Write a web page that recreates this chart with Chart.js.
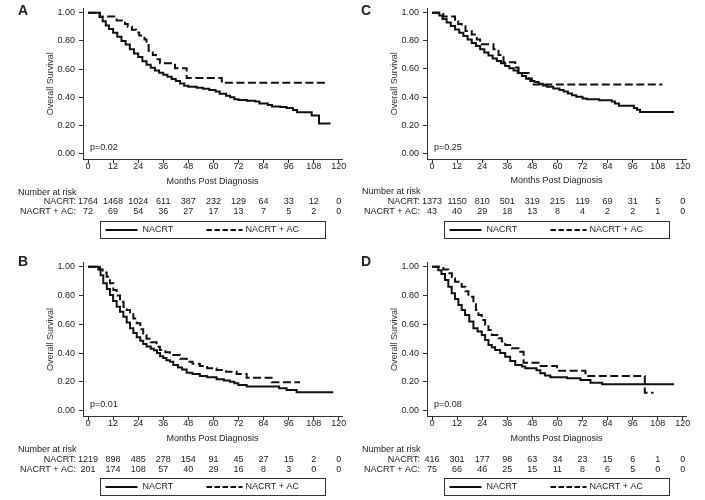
<!DOCTYPE html>
<html>
<head>
<meta charset="utf-8">
<script src="https://cdn.jsdelivr.net/npm/chart.js@4.4.1/dist/chart.umd.min.js"></script>
<style>
  body { margin: 0; background: #fff; }
  #wrap { position: relative; width: 705px; height: 500px; }
  canvas { position: absolute; }
</style>
</head>
<body>
<div id="wrap">
  <canvas id="panelA" width="352" height="250" style="left:0;top:0"></canvas>
  <canvas id="panelC" width="353" height="250" style="left:352px;top:0"></canvas>
  <canvas id="panelB" width="352" height="250" style="left:0;top:250px"></canvas>
  <canvas id="panelD" width="353" height="250" style="left:352px;top:250px"></canvas>
</div>
<script>
const monthTicks = [0, 12, 24, 36, 48, 60, 72, 84, 96, 108, 120];
const survTicks = [0, 0.2, 0.4, 0.6, 0.8, 1.0];
const groups = ['NACRT', 'NACRT + AC'];

// Panel A
const monthsA_nacrt = [0, 5.5, 7, 8.5, 10, 12, 14, 16, 18, 20, 22, 24, 26, 28, 30, 32, 34, 36, 38, 40, 42, 44, 46, 48, 52, 55, 58, 61, 63, 66, 68, 70, 72, 76, 80, 82, 86, 88, 92, 95, 98, 100, 107, 110.5, 116];
const survA_nacrt = [1, 0.97, 0.94, 0.91, 0.885, 0.857, 0.83, 0.80, 0.775, 0.74, 0.71, 0.685, 0.655, 0.63, 0.61, 0.59, 0.573, 0.56, 0.545, 0.53, 0.515, 0.497, 0.482, 0.475, 0.467, 0.46, 0.451, 0.44, 0.425, 0.41, 0.40, 0.385, 0.38, 0.375, 0.37, 0.355, 0.345, 0.335, 0.33, 0.323, 0.31, 0.293, 0.27, 0.214, 0.214];
const monthsA_ac = [0, 5.7, 13.7, 17.7, 19, 21, 23, 24.5, 27, 28, 29, 31, 32.5, 34.4, 41.6, 47.2, 64, 114.4];
const survA_ac = [1, 0.973, 0.945, 0.92, 0.9, 0.88, 0.86, 0.838, 0.81, 0.77, 0.73, 0.70, 0.67, 0.641, 0.606, 0.537, 0.502, 0.502];
const riskA_nacrt = [1764, 1468, 1024, 611, 387, 232, 129, 64, 33, 12, 0];
const riskA_ac = [72, 69, 54, 36, 27, 17, 13, 7, 5, 2, 0];

// Panel B
const monthsB_nacrt = [0, 4.9, 6, 7.3, 9, 10.5, 12, 13.7, 15.3, 16.9, 18.5, 20.1, 21.7, 23.3, 25, 26.4, 28, 30, 31.5, 33, 34.5, 36, 37.5, 39.2, 40.8, 43, 45, 47.2, 50, 53.5, 57, 61.5, 65, 67.9, 70, 71.9, 75.9, 91.4, 95, 99.8, 117.3];
const survB_nacrt = [1, 0.98, 0.94, 0.885, 0.845, 0.803, 0.762, 0.722, 0.687, 0.653, 0.612, 0.572, 0.54, 0.51, 0.485, 0.463, 0.445, 0.43, 0.42, 0.40, 0.378, 0.365, 0.35, 0.34, 0.317, 0.30, 0.285, 0.264, 0.255, 0.241, 0.232, 0.218, 0.21, 0.201, 0.19, 0.178, 0.167, 0.155, 0.144, 0.128, 0.128];
const monthsB_ac = [0, 5.7, 7, 8.9, 10.5, 12.1, 13.7, 15.3, 17, 18.5, 20.1, 21.7, 23.3, 25, 26.4, 28, 30, 32.8, 34.4, 37, 39.2, 40.8, 44, 47.2, 50, 53.5, 57, 61.5, 66, 71.1, 75.9, 87.8, 101.4];
const survB_ac = [1, 0.98, 0.96, 0.93, 0.885, 0.838, 0.80, 0.757, 0.72, 0.70, 0.676, 0.64, 0.607, 0.565, 0.526, 0.50, 0.475, 0.444, 0.421, 0.405, 0.395, 0.387, 0.36, 0.34, 0.325, 0.31, 0.295, 0.283, 0.27, 0.255, 0.229, 0.197, 0.197];
const riskB_nacrt = [1219, 898, 485, 278, 154, 91, 45, 27, 15, 2, 0];
const riskB_ac = [201, 174, 108, 57, 40, 29, 16, 8, 3, 0, 0];

// Panel C
const monthsC_nacrt = [0, 3.5, 5, 7, 9, 11, 13, 15, 17, 19, 21, 23, 25, 27, 29, 31, 33, 35, 37, 39, 41, 43, 45, 47, 49, 51, 53, 55, 58, 61, 63, 65, 67, 69, 72, 74, 80, 86, 87.5, 89.4, 96.6, 98, 99.5, 115.8];
const survC_nacrt = [1, 0.98, 0.955, 0.93, 0.905, 0.88, 0.858, 0.835, 0.81, 0.785, 0.763, 0.74, 0.717, 0.695, 0.675, 0.657, 0.64, 0.622, 0.605, 0.59, 0.572, 0.55, 0.53, 0.515, 0.507, 0.495, 0.483, 0.474, 0.462, 0.45, 0.44, 0.425, 0.413, 0.402, 0.39, 0.385, 0.378, 0.369, 0.355, 0.339, 0.323, 0.31, 0.295, 0.295];
const monthsC_ac = [0, 5.4, 11, 12.5, 14.2, 16, 19, 21.4, 23, 29.4, 31.8, 34.2, 39.8, 41.4, 46.2, 47.8, 110.2];
const survC_ac = [1, 0.973, 0.94, 0.92, 0.904, 0.87, 0.845, 0.81, 0.776, 0.741, 0.70, 0.648, 0.61, 0.571, 0.532, 0.49, 0.49];
const riskC_nacrt = [1373, 1150, 810, 501, 319, 215, 119, 69, 31, 5, 0];
const riskC_ac = [43, 40, 29, 18, 13, 8, 4, 2, 2, 1, 0];

// Panel D
const monthsD_nacrt = [0, 3, 4.5, 6.2, 7.8, 9.4, 11, 12.6, 14.2, 15.8, 17.8, 19.8, 21.8, 23.8, 25.4, 27, 28.6, 30.2, 32.6, 35, 37.4, 39.8, 43, 44.6, 50, 51.8, 54, 56.6, 64.6, 71, 75.8, 81.4, 115.8];
const survD_nacrt = [1, 0.975, 0.95, 0.907, 0.86, 0.815, 0.775, 0.734, 0.70, 0.665, 0.62, 0.572, 0.55, 0.526, 0.49, 0.456, 0.44, 0.422, 0.40, 0.375, 0.345, 0.317, 0.306, 0.294, 0.28, 0.259, 0.245, 0.232, 0.225, 0.213, 0.194, 0.183, 0.183];
const monthsD_ac = [0, 5.4, 7.8, 9.5, 11, 14.2, 16, 17.4, 19.8, 21, 22.2, 23.8, 25.4, 27, 28.6, 31.8, 33.4, 35, 38.2, 42.2, 43.8, 51, 59.8, 73.4, 101.8, 106];
const survD_ac = [1, 0.98, 0.954, 0.92, 0.896, 0.861, 0.83, 0.792, 0.746, 0.70, 0.665, 0.63, 0.595, 0.56, 0.526, 0.503, 0.48, 0.456, 0.433, 0.41, 0.333, 0.31, 0.278, 0.241, 0.125, 0.125];
const riskD_nacrt = [416, 301, 177, 98, 63, 34, 23, 15, 6, 1, 0];
const riskD_ac = [75, 66, 46, 25, 15, 11, 8, 6, 5, 0, 0];

const FONT = '"Liberation Sans", Arial, Helvetica, sans-serif';
const INK = '#222';
Chart.defaults.font.family = FONT;
Chart.defaults.color = INK;

function toPoints(months, surv) {
    return months.map((m, i) => ({ x: m, y: surv[i] }));
}

// number-at-risk table, legend box, p value and panel letter
const riskTable = {
    id: 'riskTable',
    afterDraw(chart, args, o) {
        const ctx = chart.ctx;
        const xs = chart.scales.x, ys = chart.scales.y;
        const base = chart.chartArea.bottom;
        const left = chart.chartArea.left;
        const x0 = xs.getPixelForValue(monthTicks[0]);
        ctx.save();
        ctx.fillStyle = INK;
        ctx.textBaseline = 'middle';

        ctx.font = 'bold 14px ' + FONT;
        ctx.textAlign = 'center';
        ctx.fillText(o.letter, o.letterX, o.letterY);

        ctx.font = '9px ' + FONT;
        ctx.textAlign = 'left';
        ctx.fillText(o.pText, x0 + 2, ys.getPixelForValue(0) - 6);

        ctx.fillText('Number at risk', left - 65, base + 33);
        const rows = [[groups[0] + ':', o.riskNacrt, base + 42.7], [groups[1] + ':', o.riskAc, base + 52.7]];
        rows.forEach(([lab, vals, y]) => {
            ctx.textAlign = 'right';
            ctx.fillText(lab, x0 - 12, y);
            ctx.textAlign = 'center';
            vals.forEach((v, i) => ctx.fillText(String(v), xs.getPixelForValue(monthTicks[i]), y));
        });

        // legend
        const lx = Math.round(left + 17) + 0.5, ly = Math.round(base + 62) + 0.5;
        const lw = 225, lh = 17, my = ly + lh / 2;
        ctx.strokeStyle = '#333';
        ctx.lineWidth = 1;
        ctx.strokeRect(lx, ly, lw, lh);
        ctx.strokeStyle = '#111';
        ctx.lineWidth = 2;
        ctx.beginPath();
        ctx.moveTo(lx + 5, my); ctx.lineTo(lx + 37, my);
        ctx.stroke();
        ctx.setLineDash([5.5, 2.5]);
        ctx.beginPath();
        ctx.moveTo(lx + 106, my); ctx.lineTo(lx + 142, my);
        ctx.stroke();
        ctx.setLineDash([]);
        ctx.textAlign = 'left';
        ctx.fillText(groups[0], lx + 42, my);
        ctx.fillText(groups[1], lx + 145, my);
        ctx.restore();
    }
};

function drawPanel(canvasId, p) {
    const canvas = document.getElementById(canvasId);
    const W = canvas.width, H = canvas.height;
    const plotW = 259, plotH = 154, xAxisH = 28, yAxisW = 38;
    new Chart(canvas.getContext('2d'), {
        type: 'line',
        data: {
            datasets: [{
                label: groups[0],
                data: toPoints(p.nacrt[0], p.nacrt[1]),
                stepped: true,
                borderColor: '#111',
                borderWidth: 2,
                pointRadius: 0,
                fill: false
            }, {
                label: groups[1],
                data: toPoints(p.ac[0], p.ac[1]),
                stepped: true,
                borderColor: '#111',
                borderWidth: 2,
                borderDash: [8, 3.5],
                pointRadius: 0,
                fill: false
            }]
        },
        options: {
            responsive: false,
            animation: false,
            events: [],
            layout: {
                padding: {
                    left: p.axisLeft - yAxisW,
                    top: p.top,
                    right: W - p.axisLeft - plotW,
                    bottom: H - p.top - plotH - xAxisH
                }
            },
            plugins: {
                legend: { display: false },
                tooltip: { enabled: false },
                riskTable: {
                    letter: p.letter, letterX: p.letterX, letterY: p.letterY, pText: p.pText,
                    riskNacrt: p.riskNacrt, riskAc: p.riskAc
                }
            },
            scales: {
                x: {
                    type: 'linear',
                    min: -2.4,
                    max: 121.5,
                    afterBuildTicks: s => { s.ticks = monthTicks.map(v => ({ value: v })); },
                    afterFit: s => { s.height = xAxisH; },
                    grid: { drawOnChartArea: false, drawTicks: true, tickLength: 4, tickColor: '#333' },
                    border: { color: '#333', width: 1 },
                    ticks: { font: { size: 9, lineHeight: 1 }, padding: -1, maxRotation: 0, autoSkip: false },
                    title: { display: true, text: 'Months Post Diagnosis', font: { size: 9, lineHeight: 1 }, padding: { top: 0, bottom: 1.5 } }
                },
                y: {
                    min: -0.04,
                    max: 1.03,
                    afterBuildTicks: s => { s.ticks = survTicks.map(v => ({ value: v })); },
                    afterFit: s => { s.width = yAxisW; },
                    grid: { drawOnChartArea: false, drawTicks: true, tickLength: 4, tickColor: '#333' },
                    border: { color: '#333', width: 1 },
                    ticks: { font: { size: 9, lineHeight: 1 }, padding: 4, callback: v => v.toFixed(2) },
                    title: { display: true, text: 'Overall Survival', color: '#333', font: { size: 9, lineHeight: 1 }, padding: { top: 1, bottom: 0 } }
                }
            }
        },
        plugins: [riskTable]
    });
}

drawPanel('panelA', { letter: 'A', letterX: 23, letterY: 11, pText: 'p=0.02', axisLeft: 83, top: 5.2,
    nacrt: [monthsA_nacrt, survA_nacrt], ac: [monthsA_ac, survA_ac], riskNacrt: riskA_nacrt, riskAc: riskA_ac });
drawPanel('panelC', { letter: 'C', letterX: 14, letterY: 11.5, pText: 'p=0.25', axisLeft: 75, top: 5,
    nacrt: [monthsC_nacrt, survC_nacrt], ac: [monthsC_ac, survC_ac], riskNacrt: riskC_nacrt, riskAc: riskC_ac });
drawPanel('panelB', { letter: 'B', letterX: 23, letterY: 12.5, pText: 'p=0.01', axisLeft: 83, top: 12.4,
    nacrt: [monthsB_nacrt, survB_nacrt], ac: [monthsB_ac, survB_ac], riskNacrt: riskB_nacrt, riskAc: riskB_ac });
drawPanel('panelD', { letter: 'D', letterX: 14, letterY: 12.5, pText: 'p=0.08', axisLeft: 75, top: 12.4,
    nacrt: [monthsD_nacrt, survD_nacrt], ac: [monthsD_ac, survD_ac], riskNacrt: riskD_nacrt, riskAc: riskD_ac });
</script>
</body>
</html>
